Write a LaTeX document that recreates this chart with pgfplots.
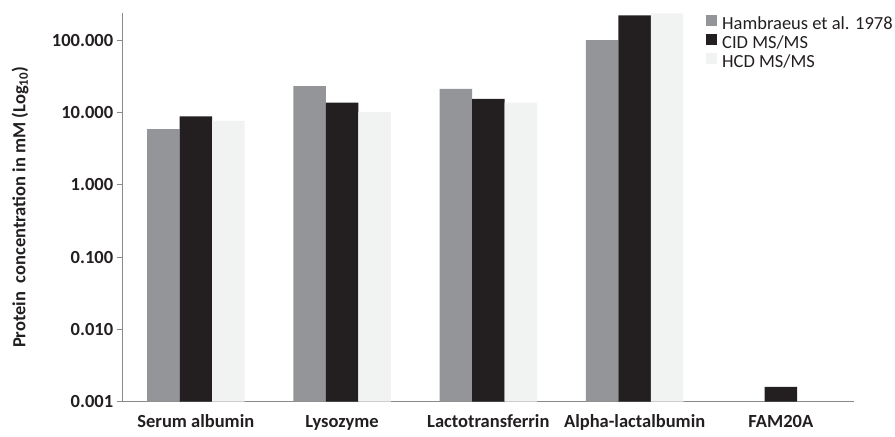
\documentclass[border=0pt]{standalone}
\usepackage{fontspec}
\setmainfont{Carlito}
\usepackage{pgfplots}
\pgfplotsset{compat=1.18}
\definecolor{cgray}{HTML}{939598}
\definecolor{cblack}{HTML}{231F20}
\definecolor{clight}{HTML}{F1F2F2}
\definecolor{axgray}{HTML}{8A8A8A}
\newcommand\fs{\fontsize{18.5bp}{22bp}\selectfont}
\begin{document}
\begin{tikzpicture}
\begin{axis}[
  at={(122.7bp,35.5bp)}, anchor=south west,
  scale only axis, width=731.3bp, height=388.2bp,
  ymode=log, ymin=0.001, ymax=238, log origin=infty,
  xmin=-0.5, xmax=4.5,
  axis x line=bottom, axis y line=left,
  axis line style={axgray, line width=1bp, -},
  ybar=0pt, bar width=32.5bp,
  every axis plot post/.append style={legend image code/.code={\fill[##1] (0bp,-1bp) rectangle (11bp,10bp);}},
  xtick={0,...,4},
  xticklabels={Serum albumin, Lysozyme, Lactotransferrin, Alpha-lactalbumin, FAM20A},
  x tick style={draw=none},
  minor xtick={-0.5,0.5,...,4.5},
  minor x tick style={axgray, line width=1bp},
  ytick={0.001,0.01,0.1,1,10,100},
  yticklabels={0.001,0.010,0.100,1.000,10.000,100.000},
  y tick style={axgray, line width=1bp},
  yminorticks=false,
  tick align=outside,
  major tick length=6bp, minor tick length=6bp,
  tick label style={font=\fs\bfseries, text=cblack},
  xticklabel style={yshift=-4bp},
  ylabel={Protein\hspace{0.25em} concentration in mM (Log\textsubscript{10})},
  ylabel style={font=\fs\bfseries, text=cblack, at={(axis description cs:-0.1404,0.5)}, anchor=center},
  legend style={at={(0.7976,0.9967)}, anchor=north west, draw=none, fill=none, inner sep=0pt,
    font=\fs, text=cblack, column sep=5bp,
    nodes={inner sep=0pt, text height=13.7bp, text depth=5bp}},
  legend cell align=left,
]
\addplot[fill=cgray, draw=none] coordinates {(0,5.9) (1,23.3) (2,21.3) (3,101)};
\addplot[fill=cblack, draw=none] coordinates {(0,8.9) (1,13.8) (2,15.5) (3,223) (4,0.0016)};
\addplot[fill=clight, draw=none] coordinates {(0,7.7) (1,10.2) (2,13.8) (3,238)};
\legend{Hambraeus et al. 1978, CID MS/MS, HCD MS/MS}
\end{axis}
\pgfresetboundingbox
\path[use as bounding box] (0,0) rectangle (895bp,437bp);
\end{tikzpicture}
\end{document}
